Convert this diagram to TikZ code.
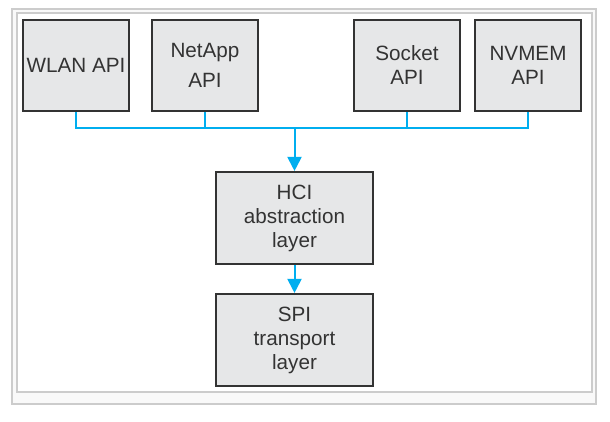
\documentclass[tikz,border=0pt]{standalone}
\usepackage{fontspec}
\setmainfont{Liberation Sans}
\usetikzlibrary{arrows.meta}
\definecolor{boxfill}{HTML}{E6E7E8}
\definecolor{boxline}{HTML}{333333}
\definecolor{txt}{HTML}{333333}
\definecolor{link}{HTML}{00AEEF}
\definecolor{frameline}{HTML}{CCCCCC}
\definecolor{framefill}{HTML}{F9F9F9}
\begin{document}
\begin{tikzpicture}[x=0.75pt,y=-0.75pt,
  apibox/.style={draw=boxline,line width=1.6pt,fill=boxfill,text=txt,
    minimum width=106*0.75pt,minimum height=91*0.75pt,inner sep=0pt,align=center,
    font=\fontsize{15.5pt}{18pt}\selectfont},
  layerbox/.style={apibox,minimum width=157*0.75pt,minimum height=92*0.75pt},
  conn/.style={draw=link,line width=1.5pt},
  arr/.style={conn,-{Triangle[width=14*0.75pt,length=14*0.75pt]}}]
\useasboundingbox (0,0) rectangle (610,421);
\path[draw=frameline,fill=framefill,line width=0.8pt] (12,9) rectangle (596,404);
\path[draw=frameline,fill=white,line width=0.8pt] (17,13) rectangle (592,392);
\node[apibox] (wlan) at (76,65.5) {WLAN API};
\node[apibox,font=\fontsize{15.5pt}{22.5pt}\selectfont] (netapp) at (205,65.5) {NetApp\\API};
\node[apibox] (socket) at (407,65.5) {Socket\\API};
\node[apibox] (nvmem) at (528,65.5) {NVMEM\\API};
\node[layerbox] (hci) at (294.5,218) {HCI\\abstraction\\layer};
\node[layerbox] (spi) at (294.5,340) {SPI\\transport\\layer};
\coordinate (bus) at (294.5,128);
\draw[conn] (wlan.south) |- (bus) -| (nvmem.south);
\draw[conn] (netapp.south) -- (netapp.south |- bus);
\draw[conn] (socket.south) -- (socket.south |- bus);
\draw[arr] (bus) -- (hci.north);
\draw[arr] (hci.south) -- (spi.north);
\end{tikzpicture}
\end{document}
